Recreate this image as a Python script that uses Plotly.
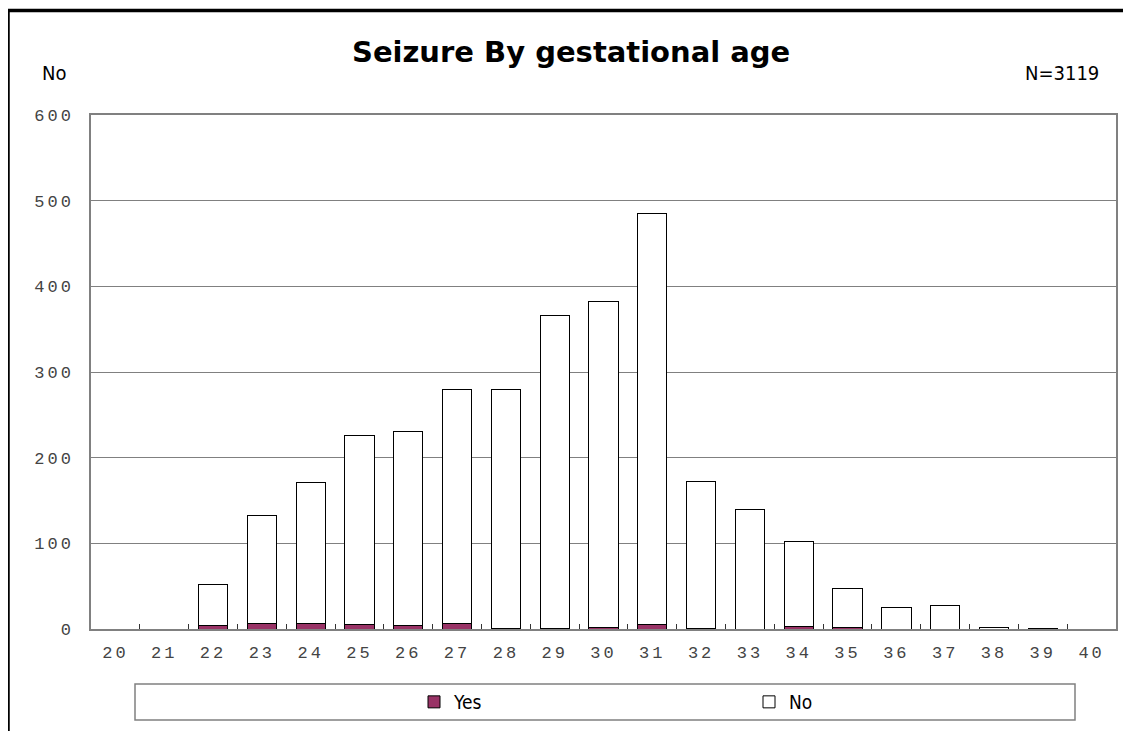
import plotly.graph_objects as go

weeks = [str(w) for w in range(20, 41)]
yes_counts = [0, 0, 4, 7, 7, 5, 4, 6, 1, 1, 2, 5, 1, 0, 3, 2, 0, 0, 0, 0, 0]
no_counts = [0, 0, 48, 125, 164, 221, 226, 274, 278, 365, 380, 480, 171, 140, 99, 45, 25, 27, 2, 1, 0]
y_ticks = [0, 100, 200, 300, 400, 500, 600]

# The page body adds an 8px margin, so reference screen px are shifted by OFF
OFF = 8
W, H = 1131, 731
PL, PR, PT, PB = 91, 1116, 115, 629  # plot area in reference screen px
L, T = PL - OFF, PT - OFF
R, B = W - (PR - OFF), H - (PB - OFF)
pw, ph = PR - PL, PB - PT

def px(xs):
    return (xs - PL) / pw

def py(ys):
    return (PB - ys) / ph

def spaced(s):
    return '<span style="letter-spacing:3px">' + s + '</span>'

fig = go.Figure()
fig.add_trace(go.Bar(x=weeks, y=yes_counts, name="Yes", width=0.6,
                     marker=dict(color="#993366", line=dict(color="#000000", width=1))))
fig.add_trace(go.Bar(x=weeks, y=no_counts, name="No", width=0.6,
                     marker=dict(color="#FFFFFF", line=dict(color="#000000", width=1))))

tick_font = dict(family="Liberation Mono", size=17, color="#444444")

fig.update_layout(
    width=W, height=H,
    barmode="stack",
    plot_bgcolor="white", paper_bgcolor="white",
    margin=dict(l=L, r=R, t=T, b=B, autoexpand=False),
    font=dict(family="Liberation Mono", size=17, color="#444444"),
    showlegend=True,
    legend=dict(orientation="h", x=px(414), y=py(702), xanchor="left", yanchor="middle",
                entrywidth=290, entrywidthmode="pixels", itemwidth=30,
                font=dict(family="DejaVu Sans Condensed", size=19, color="#000000"),
                bgcolor="rgba(0,0,0,0)", traceorder="normal", itemclick=False),
)

fig.update_xaxes(type="category", categoryorder="array", categoryarray=weeks,
                 tickvals=weeks, ticktext=[spaced(w) for w in weeks],
                 showline=True, linecolor="#808080", linewidth=1.5, mirror=True,
                 ticks="inside", tickson="boundaries", ticklen=5, tickcolor="#333333",
                 showgrid=False, ticklabelstandoff=7, tickfont=tick_font)
fig.update_yaxes(range=[0, 600], tickvals=y_ticks, ticktext=[spaced(str(v)) for v in y_ticks],
                 showline=True, linecolor="#808080",
                 linewidth=1.5, mirror=True, showgrid=True, gridcolor="#808080", gridwidth=1,
                 ticks="", ticklabelstandoff=12, zeroline=False, tickfont=tick_font)

shapes = [
    # outer frame (left and top)
    dict(type="line", xref="paper", yref="paper", x0=px(8), x1=px(W + 20), y0=py(10.5), y1=py(10.5),
         line=dict(color="black", width=3.5)),
    dict(type="line", xref="paper", yref="paper", x0=px(8), x1=px(8), y0=py(9), y1=py(H + 20),
         line=dict(color="black", width=3.5)),
    # legend box
    dict(type="rect", xref="paper", yref="paper", x0=px(135), x1=px(1075), y0=py(684), y1=py(720),
         line=dict(color="#808080", width=1.5), fillcolor="rgba(0,0,0,0)"),
]
fig.update_layout(shapes=shapes)

fig.add_annotation(text="<b>Seizure By gestational age</b>", xref="paper", yref="paper",
                   x=px(571), y=py(52), xanchor="center", yanchor="middle", showarrow=False,
                   font=dict(family="DejaVu Sans", size=29, color="#000000"))
fig.add_annotation(text="No", xref="paper", yref="paper", x=px(40), y=py(73),
                   xanchor="left", yanchor="middle", showarrow=False,
                   font=dict(family="DejaVu Sans Condensed", size=20, color="#000000"))
fig.add_annotation(text="N=3119", xref="paper", yref="paper", x=px(1101), y=py(73),
                   xanchor="right", yanchor="middle", showarrow=False,
                   font=dict(family="DejaVu Sans Condensed", size=20, color="#000000"))

fig.write_html("out.html")
